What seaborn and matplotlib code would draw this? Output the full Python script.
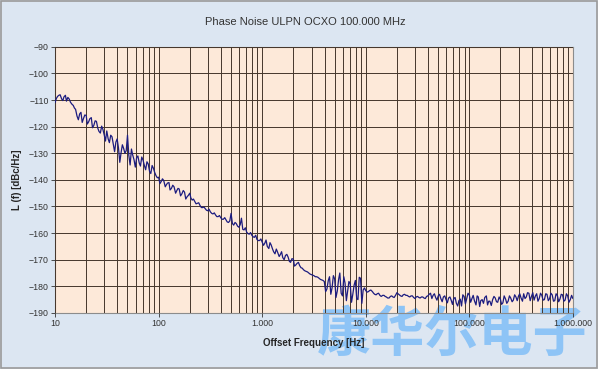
import numpy as np
import pandas as pd
import seaborn as sns
import matplotlib.pyplot as plt
from matplotlib.ticker import FixedLocator, FuncFormatter, NullFormatter

# offset frequency grid: two interleaved mantissa sets per decade
mantissa = [1.00, 1.06, 1.12, 1.19, 1.26, 1.33, 1.41, 1.50, 1.58, 1.68,
            1.78, 1.88, 2.00, 2.11, 2.24, 2.37, 2.51, 2.66, 2.82, 2.99,
            3.16, 3.35, 3.55, 3.76, 3.98, 4.22, 4.47, 4.73, 5.01, 5.31,
            5.62, 5.96, 6.31, 6.68, 7.08, 7.50, 7.94, 8.41, 8.91, 9.44]
mantissa_mid = [1.03, 1.09, 1.16, 1.22, 1.29, 1.37, 1.46, 1.54, 1.63, 1.73,
                1.83, 1.94, 2.05, 2.17, 2.30, 2.44, 2.59, 2.74, 2.90, 3.07,
                3.26, 3.45, 3.65, 3.87, 4.10, 4.35, 4.60, 4.87, 5.16, 5.47,
                5.79, 6.14, 6.50, 6.88, 7.29, 7.72, 8.18, 8.66, 9.17, 9.72]
decades = [10, 100, 1000, 10000, 100000]

# L(f) in dBc/Hz, one list per decade
lvl_10 = [-111.0, -108.6, -108.0, -110.2, -108.2, -109.0, -110.8, -112.0, -113.5, -117.4,
          -114.6, -117.0, -115.8, -118.2, -116.6, -119.5, -118.0, -121.8, -119.8, -123.2,
          -121.6, -126.0, -123.8, -129.4, -124.6, -133.4, -126.8, -130.0, -123.2, -134.4,
          -130.6, -135.2, -131.0, -134.8, -132.6, -136.2, -134.0, -137.6, -135.6, -138.4]
mid_10 = [-109.4, -108.2, -109.6, -108.8, -110.4, -109.6, -111.6, -113.0, -116.0, -115.2,
          -118.4, -115.6, -119.0, -117.0, -120.4, -117.8, -120.6, -122.4, -121.0, -125.4,
          -124.6, -123.2, -126.4, -125.8, -128.0, -129.6, -128.2, -129.0, -130.8, -128.4,
          -132.4, -131.6, -133.6, -131.4, -134.6, -133.2, -136.8, -134.6, -137.2, -139.2]
lvl_100 = [-139.0, -140.6, -140.2, -141.8, -141.0, -143.2, -142.6, -144.0, -143.4, -145.2,
           -144.6, -146.4, -145.0, -147.6, -148.2, -148.8, -149.6, -150.4, -150.8, -151.6,
           -152.0, -152.8, -153.2, -153.8, -154.2, -154.8, -155.0, -156.0, -152.6, -157.0,
           -156.4, -157.8, -154.4, -158.8, -159.6, -160.4, -160.8, -161.6, -162.4, -162.8]
mid_100 = [-141.4, -139.6, -142.6, -141.2, -143.8, -142.0, -145.0, -143.2, -146.0, -144.0,
           -147.2, -145.8, -146.8, -147.2, -149.0, -148.6, -150.4, -150.2, -151.4, -151.0,
           -152.6, -152.4, -153.8, -153.4, -154.8, -154.2, -155.8, -155.4, -156.4, -156.0,
           -157.4, -156.8, -158.6, -158.0, -160.2, -159.8, -161.4, -160.8, -162.8, -162.2]
lvl_1k = [-163.4, -163.8, -165.0, -163.6, -166.0, -167.8, -167.2, -168.0, -169.2, -168.4,
          -169.0, -171.0, -169.8, -172.0, -171.0, -173.0, -173.8, -174.4, -175.0, -175.6,
          -176.0, -176.4, -177.0, -177.6, -178.2, -181.0, -176.4, -180.6, -177.2, -181.8,
          -175.0, -183.6, -178.8, -182.0, -179.0, -183.0, -177.8, -185.0, -177.0, -181.4]
mid_1k = [-164.6, -162.6, -165.8, -164.4, -167.0, -166.0, -168.8, -167.0, -170.0, -168.0,
          -170.6, -169.6, -172.4, -171.4, -172.2, -173.2, -174.2, -174.6, -175.4, -175.8,
          -176.4, -176.6, -177.4, -177.8, -182.0, -177.8, -183.0, -176.0, -184.2, -177.4,
          -182.6, -176.4, -185.4, -178.2, -186.0, -179.6, -184.6, -176.6, -186.4, -180.6]
lvl_10k = [-181.6, -182.0, -181.4, -182.6, -183.2, -182.6, -183.8, -183.4, -184.0, -184.4,
           -183.6, -184.2, -182.4, -183.2, -183.8, -183.0, -183.4, -184.0, -183.6, -184.6,
           -183.8, -184.4, -184.0, -184.6, -183.6, -182.6, -183.4, -184.2, -183.6, -184.6,
           -184.0, -185.0, -184.4, -185.2, -184.6, -186.4, -185.4, -187.4, -183.8, -184.6]
mid_10k = [-182.2, -181.6, -182.0, -183.0, -182.8, -183.4, -183.4, -183.8, -184.4, -183.8,
           -184.0, -183.4, -182.8, -183.6, -183.2, -183.4, -183.8, -183.6, -184.2, -184.0,
           -184.2, -184.0, -184.4, -183.8, -183.0, -184.6, -182.8, -185.2, -183.0, -185.8,
           -183.6, -186.2, -184.0, -186.8, -184.2, -187.4, -184.8, -183.2, -186.6, -182.6]
lvl_100k = [-183.2, -184.6, -185.4, -183.6, -187.6, -185.0, -184.2, -187.0, -185.6, -185.0,
            -184.4, -186.0, -185.0, -186.2, -184.8, -185.6, -184.4, -185.2, -184.0, -183.6,
            -184.4, -182.8, -184.0, -182.6, -183.8, -185.2, -182.8, -184.6, -183.4, -185.0,
            -183.0, -184.6, -183.2, -185.4, -183.4, -184.8, -183.2, -185.2, -183.6, -185.0]
mid_100k = [-186.0, -183.4, -187.0, -184.0, -185.4, -186.4, -183.6, -185.6, -187.2, -183.8,
            -185.8, -184.0, -186.8, -183.6, -186.4, -183.6, -185.8, -183.2, -185.4, -182.8,
            -185.6, -184.6, -182.4, -185.4, -182.4, -183.6, -185.6, -182.6, -185.2, -182.8,
            -185.4, -182.6, -185.6, -182.8, -185.8, -183.0, -185.6, -182.8, -186.0, -183.4]
lvl_end = [-184.6]

main_lists = [lvl_10, lvl_100, lvl_1k, lvl_10k, lvl_100k]
mid_lists = [mid_10, mid_100, mid_1k, mid_10k, mid_100k]

freq, level = [], []
for d, a, b in zip(decades, main_lists, mid_lists):
    for m, v in zip(mantissa, a):
        freq.append(m * d)
        level.append(v)
    for m, v in zip(mantissa_mid, b):
        freq.append(m * d)
        level.append(v)
freq.append(1000000)
level += lvl_end
df = pd.DataFrame({'freq': freq, 'level': level}).sort_values('freq')

x_ticks = [10, 100, 1000, 10000, 100000, 1000000]
y_ticks = [-90, -100, -110, -120, -130, -140, -150, -160, -170, -180, -190]

sns.set_theme(style='white')
plt.rcParams['font.family'] = ['Liberation Sans', 'DejaVu Sans']

fig = plt.figure(figsize=(5.98, 3.69), dpi=100, facecolor='#dce6f2')
ax = fig.add_axes([0.092, 0.152, 0.866, 0.721])
ax.set_facecolor('#fde9d9')

sns.lineplot(data=df, x='freq', y='level', ax=ax, color='#1c1c80', lw=0.9,
             sort=False, zorder=3)

ax.set_xscale('log')
ax.set_xlim(10, 1000000)
ax.set_ylim(-190, -90)
ax.xaxis.set_major_locator(FixedLocator(x_ticks))
minors = [k * d for d in decades for k in range(2, 10)]
ax.xaxis.set_minor_locator(FixedLocator(minors))
ax.xaxis.set_minor_formatter(NullFormatter())
ax.xaxis.set_major_formatter(FuncFormatter(lambda v, p: f"{int(round(v)):,}".replace(',', '.')))
ax.set_yticks(y_ticks)

ax.set_axisbelow(False)
ax.grid(True, which='major', axis='both', color='#45362b', lw=0.7, zorder=2)
ax.grid(True, which='minor', axis='x', color='#45362b', lw=0.7, zorder=2)

for s in ax.spines.values():
    s.set_color('#8c8c8c')
    s.set_linewidth(0.8)

ax.tick_params(axis='both', which='major', labelsize=6.3, colors='#333333',
               length=3, width=0.6, direction='out', left=True, bottom=True, pad=1.5)
ax.tick_params(axis='x', which='minor', length=0)

ax.set_xlabel('Offset Frequency [Hz]', fontsize=7, fontweight='bold', labelpad=7)
ax.set_ylabel('L (f) [dBc/Hz]', fontsize=7, fontweight='bold', labelpad=5)
fig.text(0.51, 0.94, 'Phase Noise ULPN OCXO 100.000 MHz', ha='center', va='center',
         fontsize=8, color='#333333')

# watermark, above plot background but under grid, curve and labels
ax.text(0.766, -0.083, '康华尔电子', transform=ax.transAxes, ha='center', va='center',
        fontsize=39, fontweight='bold', color='#8ec4f6', zorder=1, clip_on=False,
        family=['Noto Sans CJK SC', 'DejaVu Sans'])

# outer border
fig.patches.append(plt.Rectangle((0.002, 0.003), 0.996, 0.994, transform=fig.transFigure,
                                 fill=False, edgecolor='#9a9a9a', lw=1.2))

fig.savefig('out.png', dpi=100, facecolor=fig.get_facecolor())
